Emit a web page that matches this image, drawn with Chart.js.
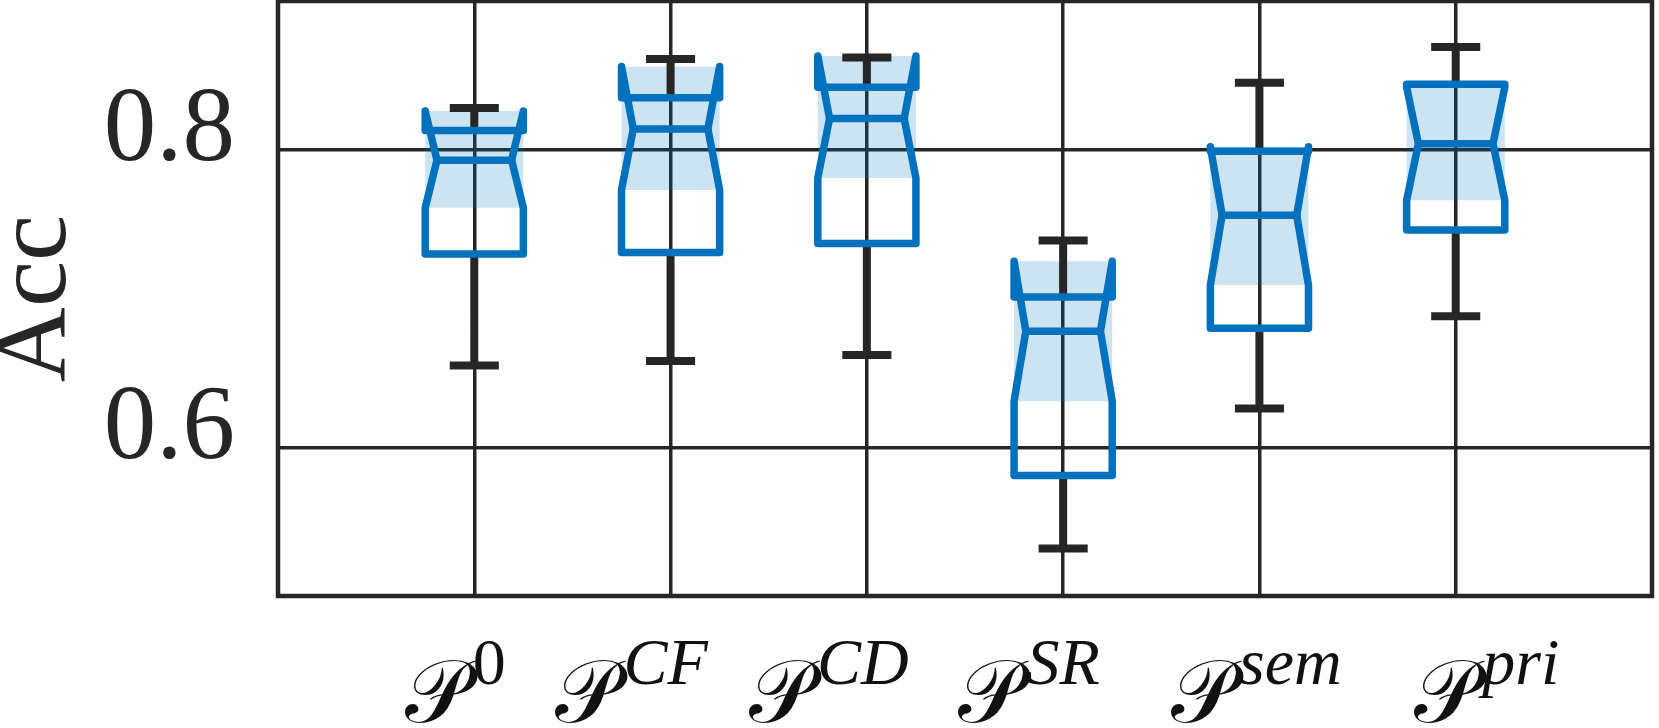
<!DOCTYPE html>
<html lang="en">
  <head>
    <meta charset="UTF-8" />
    <title>Acc notched boxplot</title>
    <style>
      html, body { margin: 0; padding: 0; background: #fff; }
      canvas { display: block; }
    </style>
  </head>
  <body>
    <canvas id="myChart" width="1659" height="728"></canvas>

    <script src="https://cdn.jsdelivr.net/npm/chart.js@4/dist/chart.umd.min.js"></script>
    <script>
      // superscripts of the P labels, one box per entry
      const categories = ["0", "CF", "CD", "SR", "sem", "pri"];
      const labelBase = "\u{1D4AB}";

      // box statistics
      const whiskerLow  = [0.655, 0.658, 0.662, 0.532, 0.626, 0.688];
      const q1          = [0.730, 0.731, 0.737, 0.581, 0.680, 0.746];
      const notchLow    = [0.761, 0.773, 0.781, 0.631, 0.709, 0.766];
      const median      = [0.793, 0.814, 0.821, 0.678, 0.756, 0.804];
      const q3          = [0.813, 0.835, 0.842, 0.701, 0.799, 0.844];
      const notchHigh   = [0.826, 0.856, 0.863, 0.725, 0.802, 0.842];
      const whiskerHigh = [0.828, 0.861, 0.862, 0.739, 0.845, 0.869];

      const yTicks = [0.6, 0.8];

      const blue = "#0072BD";
      const shade = "rgba(0, 114, 189, 0.2)";
      const dark = "#262626";
      const boxHalf = 0.25, notchHalf = 0.19, capHalf = 0.125;
      const labelShift = [-19, -39, -38, -34, -3, 31];

      const pt = (x, y) => ({ x: x, y: y });
      const gap = x => ({ x: x, y: null });

      const datasets = [];
      const medianPts = [], whiskerPts = [], capPts = [];

      categories.forEach((c, i) => {
        const x = i + 1, L = x - boxHalf, R = x + boxHalf;
        const nl = x - notchHalf, nr = x + notchHalf;

        // light blue band over the notch interval
        datasets.push({
          data: [pt(L, notchLow[i]), pt(R, notchLow[i]), pt(R, notchHigh[i]), pt(L, notchHigh[i]), pt(L, notchLow[i])],
          fill: "shape",
          backgroundColor: shade,
          borderColor: "transparent",
          borderWidth: 0,
          order: 3
        });

        // notched box outline
        datasets.push({
          data: [
            pt(L, q1[i]), pt(L, notchLow[i]), pt(nl, median[i]), pt(L, notchHigh[i]), pt(L, q3[i]),
            pt(R, q3[i]), pt(R, notchHigh[i]), pt(nr, median[i]), pt(R, notchLow[i]), pt(R, q1[i]), pt(L, q1[i])
          ],
          borderColor: blue,
          borderWidth: 7.5,
          borderJoinStyle: "round",
          borderCapStyle: "round",
          fill: false,
          order: 1
        });

        medianPts.push(pt(nl, median[i]), pt(nr, median[i]), gap(x));
        whiskerPts.push(pt(x, q3[i]), pt(x, whiskerHigh[i]), gap(x), pt(x, q1[i]), pt(x, whiskerLow[i]), gap(x));
        capPts.push(pt(x - capHalf, whiskerHigh[i]), pt(x + capHalf, whiskerHigh[i]), gap(x),
                    pt(x - capHalf, whiskerLow[i]), pt(x + capHalf, whiskerLow[i]), gap(x));
      });

      datasets.push({ data: whiskerPts, borderColor: dark, borderWidth: 8, borderCapStyle: "butt", fill: false, order: 2 });
      datasets.push({ data: capPts, borderColor: dark, borderWidth: 8, borderCapStyle: "butt", fill: false, order: 2 });
      datasets.push({ data: medianPts, borderColor: blue, borderWidth: 7.5, borderCapStyle: "round", fill: false, order: 0 });

      const framePlugin = {
        id: "frame",
        afterDatasetsDraw(chart) {
          const { ctx, chartArea: a } = chart;
          ctx.save();
          ctx.strokeStyle = dark;
          ctx.lineWidth = 4.5;
          ctx.strokeRect(a.left, a.top, a.right - a.left, a.bottom - a.top);
          ctx.restore();
        }
      };

      // x labels: script P with a raised superscript, placed from the x scale ticks
      const xLabelPlugin = {
        id: "xLabels",
        afterDraw(chart) {
          const ctx = chart.ctx, xs = chart.scales.x;
          const baseFont = '88px "DejaVu Serif", "DejaVu Sans", serif';
          ctx.save();
          ctx.fillStyle = "#111";
          ctx.textAlign = "left";
          ctx.textBaseline = "alphabetic";
          categories.forEach((sup, i) => {
            const supFont = (/[A-Za-z]/.test(sup) ? "italic " : "") + '66px "Liberation Serif"';
            ctx.font = baseFont;
            const wb = ctx.measureText(labelBase).width;
            ctx.font = supFont;
            const ws = ctx.measureText(sup).width;
            const x0 = xs.getPixelForValue(i + 1) + labelShift[i] - (wb + 5 + ws) / 2;
            ctx.font = baseFont;
            ctx.fillText(labelBase, x0, 722);
            ctx.font = supFont;
            ctx.fillText(sup, x0 + wb + 5, 684);
          });
          ctx.restore();
        }
      };

      const ctx = document.getElementById("myChart").getContext("2d");
      new Chart(ctx, {
        type: "line",
        data: { datasets: datasets },
        plugins: [framePlugin, xLabelPlugin],
        options: {
          responsive: false,
          animation: false,
          events: [],
          layout: { padding: { top: 1, right: 7, bottom: 0, left: 0 } },
          elements: { point: { radius: 0 }, line: { tension: 0 } },
          plugins: { legend: { display: false }, tooltip: { enabled: false } },
          scales: {
            x: {
              type: "linear",
              min: 0,
              max: 7,
              afterBuildTicks: s => { s.ticks = categories.map((c, i) => ({ value: i + 1 })); },
              afterFit: s => { s.height = 132; s.paddingLeft = 0; s.paddingRight = 0; },
              ticks: { display: false },
              grid: { color: dark, lineWidth: 3.5, drawTicks: false },
              border: { display: false }
            },
            y: {
              min: 0.5,
              max: 0.9,
              afterBuildTicks: s => { s.ticks = yTicks.map(v => ({ value: v })); },
              afterFit: s => { s.width = 278; s.paddingTop = 0; s.paddingBottom = 0; },
              ticks: {
                font: { family: "Liberation Serif", size: 105, lineHeight: 1 },
                color: dark,
                padding: 43,
                labelOffset: -17,
                callback: v => v.toFixed(1)
              },
              grid: { color: dark, lineWidth: 3.5, drawTicks: false },
              border: { display: false },
              title: {
                display: true,
                text: "Acc",
                color: dark,
                font: { family: "Liberation Serif", size: 104, lineHeight: 0.6 },
                padding: { top: 6, bottom: 0 }
              }
            }
          }
        }
      });
    </script>
  </body>
</html>
